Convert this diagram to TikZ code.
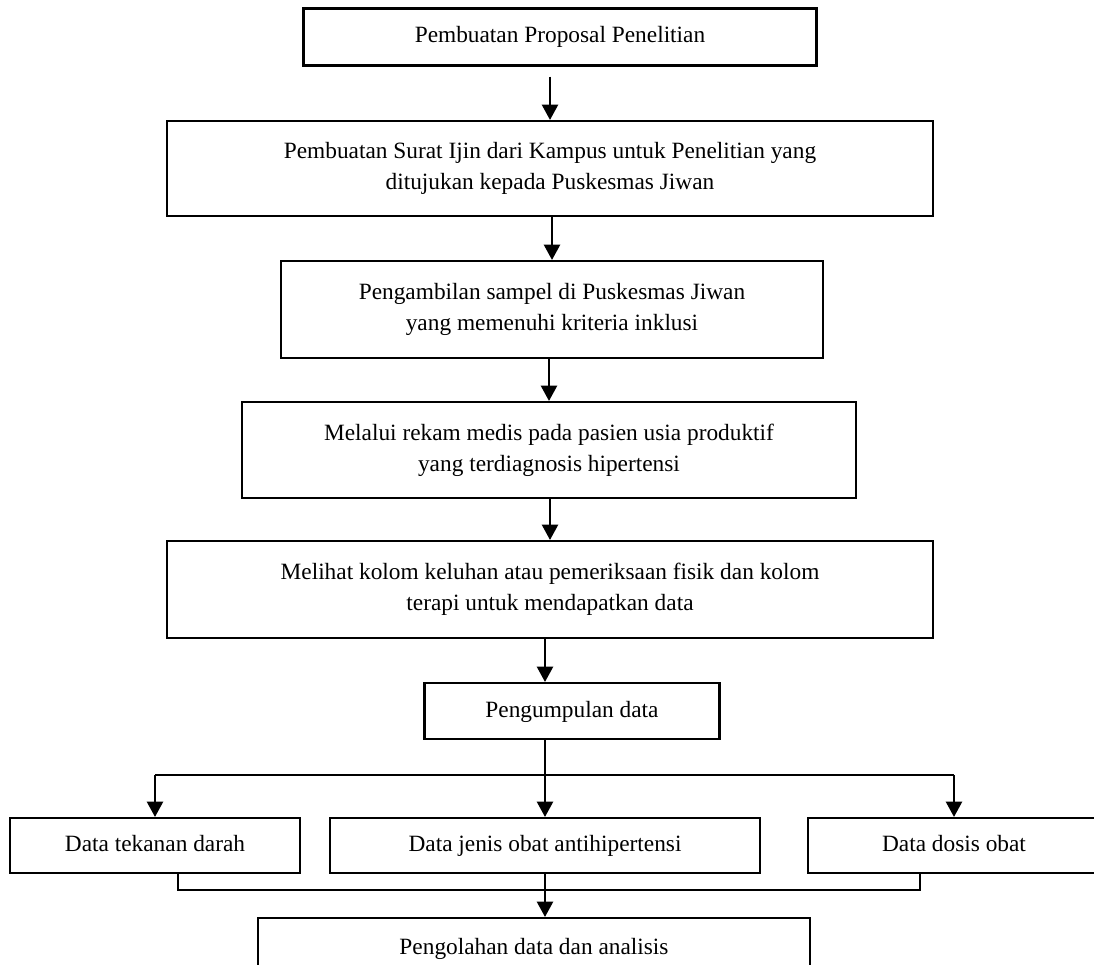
\documentclass[tikz,border=0pt]{standalone}
\usepackage{fontspec}
\setmainfont{Liberation Serif}
\usetikzlibrary{arrows.meta}

\begin{document}
\begin{tikzpicture}[x = 0.025cm, y = -0.025cm,
		font = \fontsize{16.6}{22}\selectfont,
		box/.style = {draw, line width = 1.5pt, align = center, inner sep = 0pt},
		rowbox/.style = {box, text height = 0.9em, text depth = 0pt},
		arr/.style = {line width = 1.5pt, -{Triangle[length = 0.38cm, width = 0.4cm]}},
		ln/.style = {line width = 1.5pt}]
		\useasboundingbox (0, 0) rectangle (1094, 965);
		%%%%%%%%%%%%%
		\node [box, minimum width = 513*0.025cm, minimum height = 57*0.025cm] (prop) at (560, 37) {Pembuatan Proposal Penelitian};
		\node [box, minimum width = 766*0.025cm, minimum height = 95*0.025cm] (ijin) at (550, 168.5) {Pembuatan Surat Ijin dari Kampus untuk Penelitian yang\\ditujukan kepada Puskesmas Jiwan};
		\node [box, minimum width = 542*0.025cm, minimum height = 97*0.025cm] (sampel) at (552, 309.5) {Pengambilan sampel di Puskesmas Jiwan\\yang memenuhi kriteria inklusi};
		\node [box, minimum width = 614*0.025cm, minimum height = 96*0.025cm] (rekam) at (549, 450) {Melalui rekam medis pada pasien usia produktif\\yang terdiagnosis hipertensi};
		\node [box, minimum width = 766*0.025cm, minimum height = 97*0.025cm] (kolom) at (550, 589.5) {Melihat kolom keluhan atau pemeriksaan fisik dan kolom\\terapi untuk mendapatkan data};
		\node [rowbox, minimum width = 295*0.025cm, minimum height = 56*0.025cm] (kumpul) at (572, 711) {Pengumpulan data};
		%%%%%%%%%%%%%
		\node [rowbox, minimum width = 290*0.025cm, minimum height = 55*0.025cm] (tekanan) at (155, 845.5) {Data tekanan darah};
		\node [rowbox, minimum width = 430*0.025cm, minimum height = 55*0.025cm] (jenis) at (545, 845.5) {Data jenis obat antihipertensi};
		\node [rowbox, minimum width = 292*0.025cm, minimum height = 55*0.025cm] (dosis) at (954, 845.5) {Data dosis obat};
		\node [rowbox, minimum width = 552*0.025cm, minimum height = 60*0.025cm] (olah) at (534, 948) {Pengolahan data dan analisis};
		%%%%%%%%%%%%%
		\coordinate (split) at (545, 775);
		\coordinate (mergeL) at (178, 890);
		\coordinate (mergeR) at (920, 890);
		%%%%%%%%%%%%%
		\draw [arr, shorten < = 10*0.025cm] (prop.south -| ijin.north) to (ijin.north);
		\draw [arr] (ijin.south -| sampel.north) to (sampel.north);
		\draw [arr] (sampel.south -| rekam.north) to (rekam.north);
		\draw [arr] (rekam.south -| kolom.north) to (kolom.north);
		\draw [arr] (kolom.south -| split) to (kumpul.north -| split);
		\draw [ln] (kumpul.south -| split) to (split);
		\draw [arr] (split -| tekanan.north) to (tekanan.north);
		\draw [arr] (split) to (jenis.north);
		\draw [arr] (split -| dosis.north) to (dosis.north);
		\draw [ln] (split -| tekanan.north) to (split -| dosis.north);
		%%%%%%%%%%%%%
		\draw [ln] (tekanan.south -| mergeL) to (mergeL) to (mergeR) to (dosis.south -| mergeR);
		\draw [arr] (jenis.south) to (jenis.south |- olah.north);
\end{tikzpicture}
\end{document}
